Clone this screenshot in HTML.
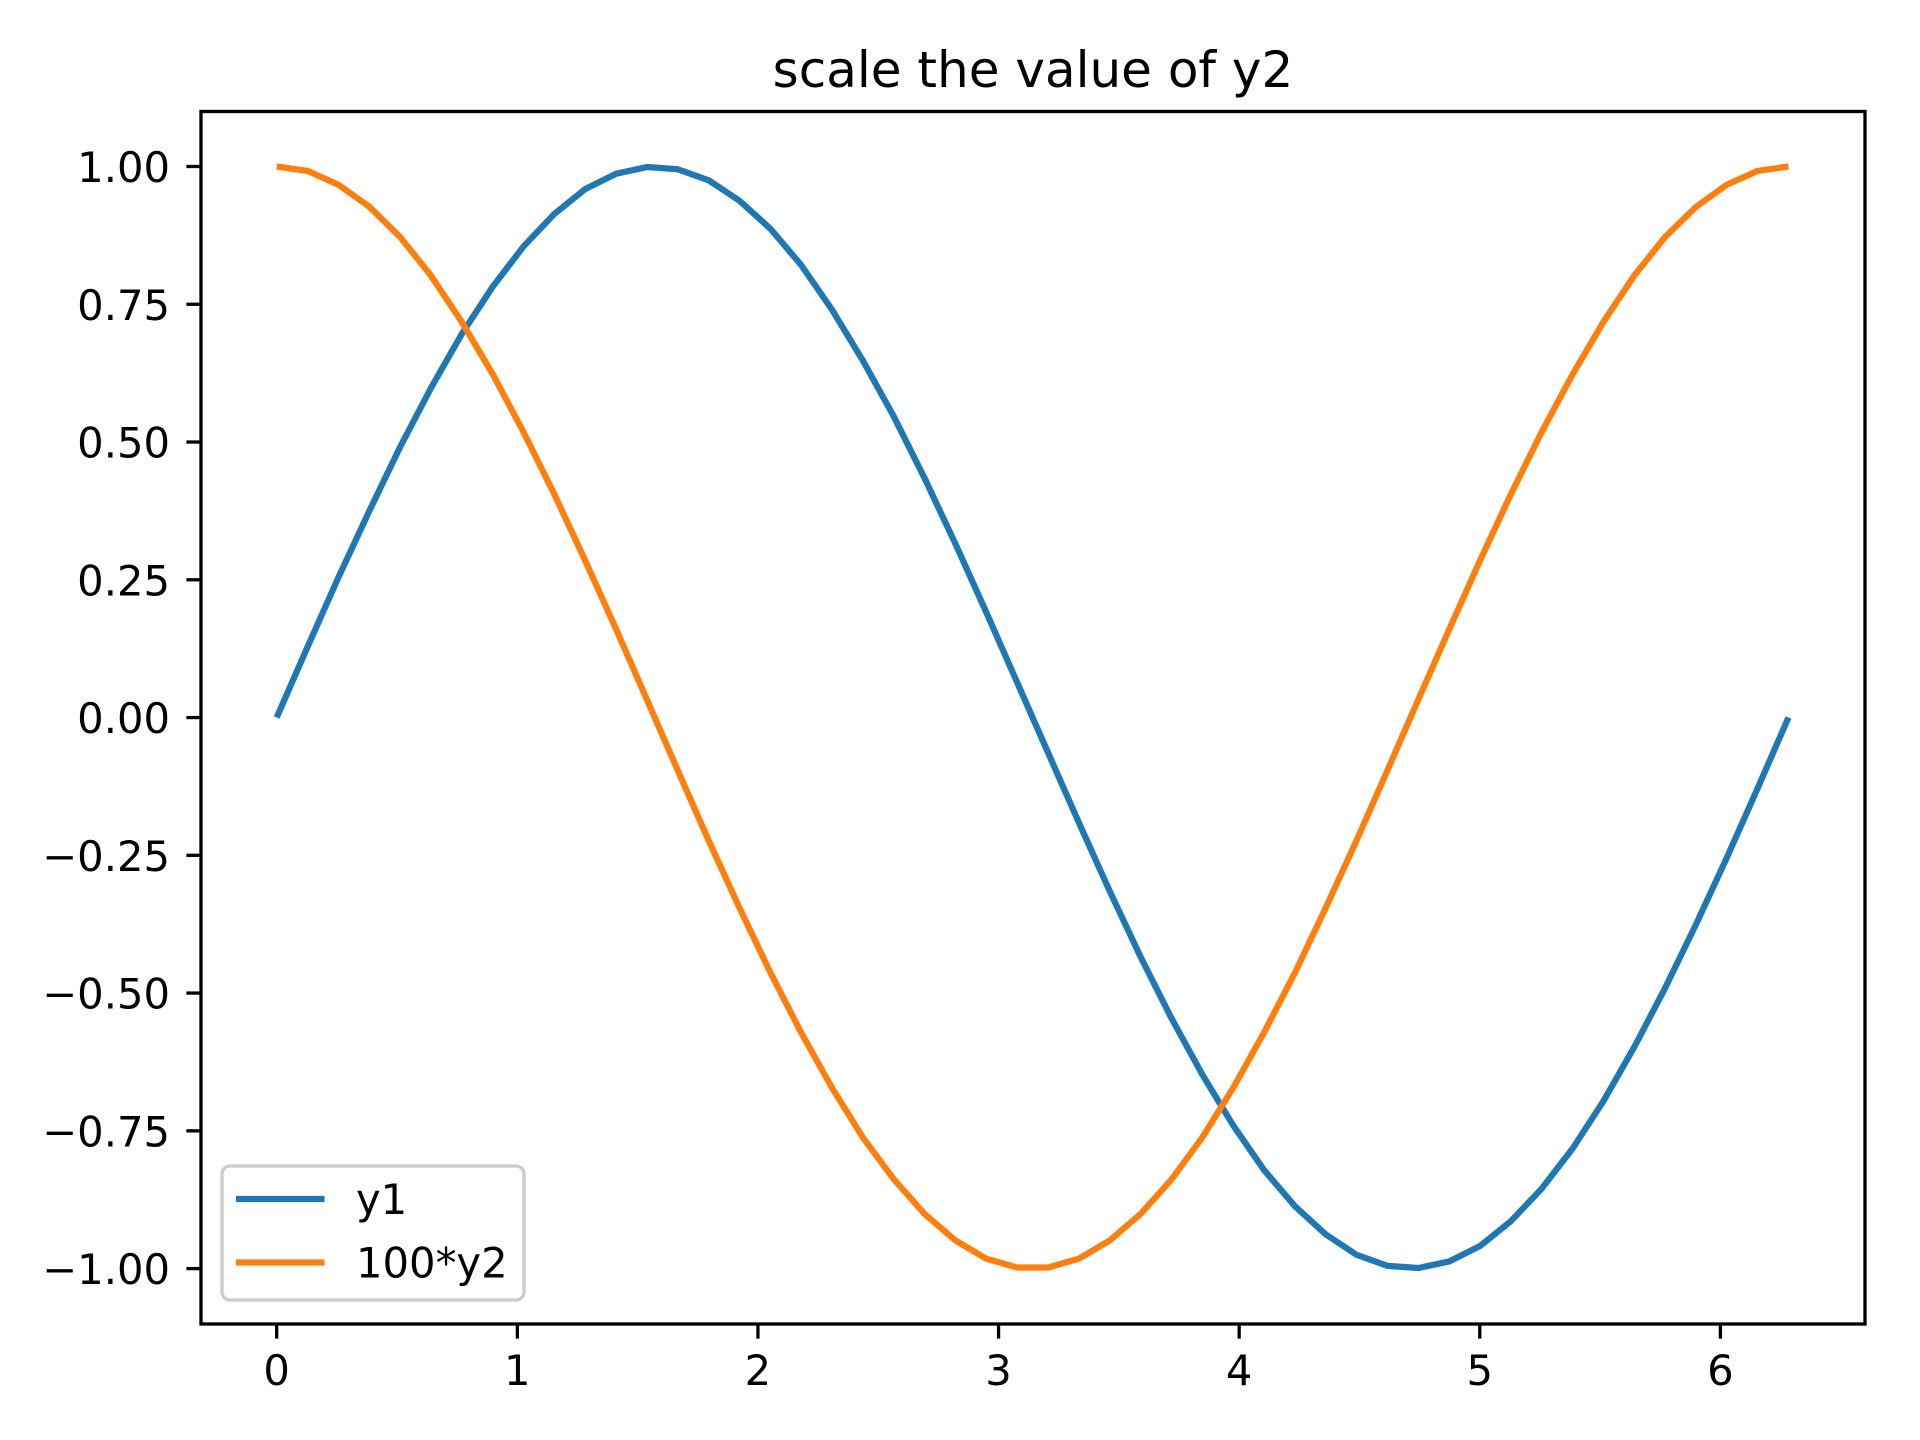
<!DOCTYPE html>
<html><head><meta charset="utf-8"><style>
html,body{margin:0;padding:0;background:#fff;}
svg{display:block;font-family:"DejaVu Sans","Liberation Sans",sans-serif;}
</style></head><body>
<svg id="chart" width="1920" height="1440" viewBox="0 0 1920 1440" xmlns="http://www.w3.org/2000/svg">
<rect width="1920" height="1440" fill="#fff"/>
<text x="1033" y="87" font-size="50" text-anchor="middle" fill="#000">scale the value of y2</text>
<g id="plot"></g>
</svg>
<script>
const xValues = [0,0.128,0.256,0.385,0.513,0.641,0.769,0.898,1.026,1.154,1.282,1.411,1.539,1.667,1.795,1.923,2.052,2.180,2.308,2.436,2.565,2.693,2.821,2.949,3.077,3.206,3.334,3.462,3.590,3.719,3.847,3.975,4.103,4.232,4.360,4.488,4.616,4.744,4.873,5.001,5.129,5.257,5.386,5.514,5.642,5.770,5.899,6.027,6.155,6.283];
const y1Values = [0,0.128,0.254,0.375,0.491,0.598,0.696,0.782,0.855,0.914,0.959,0.987,0.999,0.995,0.975,0.938,0.887,0.821,0.740,0.648,0.546,0.434,0.315,0.191,0.064,-0.064,-0.191,-0.315,-0.434,-0.546,-0.648,-0.740,-0.821,-0.887,-0.938,-0.975,-0.995,-0.999,-0.987,-0.959,-0.914,-0.855,-0.782,-0.696,-0.598,-0.491,-0.375,-0.254,-0.128,0];
const y2Values = [1,0.992,0.967,0.927,0.872,0.802,0.718,0.623,0.518,0.405,0.285,0.160,0.032,-0.096,-0.223,-0.345,-0.463,-0.572,-0.672,-0.762,-0.838,-0.901,-0.949,-0.982,-0.998,-0.998,-0.982,-0.949,-0.901,-0.838,-0.762,-0.672,-0.572,-0.463,-0.345,-0.223,-0.096,0.032,0.160,0.285,0.405,0.518,0.623,0.718,0.802,0.872,0.927,0.967,0.992,1];
const xTicks = [0,1,2,3,4,5,6];
const yTicks = [1,0.75,0.5,0.25,0,-0.25,-0.5,-0.75,-1];
const yTickLabels = ["1.00","0.75","0.50","0.25","0.00","\u22120.25","\u22120.50","\u22120.75","\u22121.00"];
const seriesNames = ["y1","100*y2"];

const L=201,R=1865,T=111.5,B=1324;
const x0px=276.7, x6px=1720.4;
function sx(v){return x0px+(x6px-x0px)*v/6;}
const y1px=166.5, ym1px=1268.6;
function sy(v){return ym1px+(y1px-ym1px)*(v+1)/2;}

const NS="http://www.w3.org/2000/svg";
const g=document.getElementById('plot');
function mk(tag,attrs,parent){const e=document.createElementNS(NS,tag);for(const k in attrs)e.setAttribute(k,attrs[k]);(parent||g).appendChild(e);return e;}

function drawLine(xs,ys,color,name){
  const d=xs.map((x,i)=>(i?'L':'M')+sx(x).toFixed(2)+' '+sy(ys[i]).toFixed(2)).join(' ');
  const p=mk('path',{d:d,fill:'none',stroke:color,'stroke-width':6.25,'stroke-linejoin':'round','stroke-linecap':'butt'});
  
  
}
drawLine(xValues,y1Values,'#1f77b4','series-y1-line');
drawLine(xValues,y2Values,'#ff7f0e','series-100y2-line');

const frame=mk('rect',{x:L,y:T,width:R-L,height:B-T,fill:'none',stroke:'#000','stroke-width':3.3});



xTicks.forEach(v=>{
  const t=mk('line',{x1:sx(v),x2:sx(v),y1:B,y2:B+14.6,stroke:'#000','stroke-width':3.3});
  
  
  const lb=mk('text',{x:sx(v),y:1385,'font-size':41.7,'text-anchor':'middle',fill:'#000'});
  lb.textContent=String(v);
  
  
});
yTicks.forEach((v,i)=>{
  const t=mk('line',{x1:L-14.6,x2:L,y1:sy(v),y2:sy(v),stroke:'#000','stroke-width':3.3});
  
  
  const lb=mk('text',{x:170,y:sy(v)+15.5,'font-size':41.7,'text-anchor':'end',fill:'#000'});
  lb.textContent=yTickLabels[i];
  
  
});

const leg=mk('g',{});


mk('rect',{x:222,y:1166,width:302,height:134,rx:8,fill:'#fff','fill-opacity':0.8,stroke:'#ccc','stroke-width':3.3},leg);
const legColors=['#1f77b4','#ff7f0e'];
const legY=[1199,1262.5];
seriesNames.forEach((n,i)=>{
  const e=mk('g',{},leg);
  
  
  mk('line',{x1:236,x2:324.5,y1:legY[i],y2:legY[i],stroke:legColors[i],'stroke-width':6.25},e);
  const tx=mk('text',{x:356,y:legY[i]+15,'font-size':41.7,fill:'#000'},e);
  tx.textContent=n;
});
</script>
</body></html>
